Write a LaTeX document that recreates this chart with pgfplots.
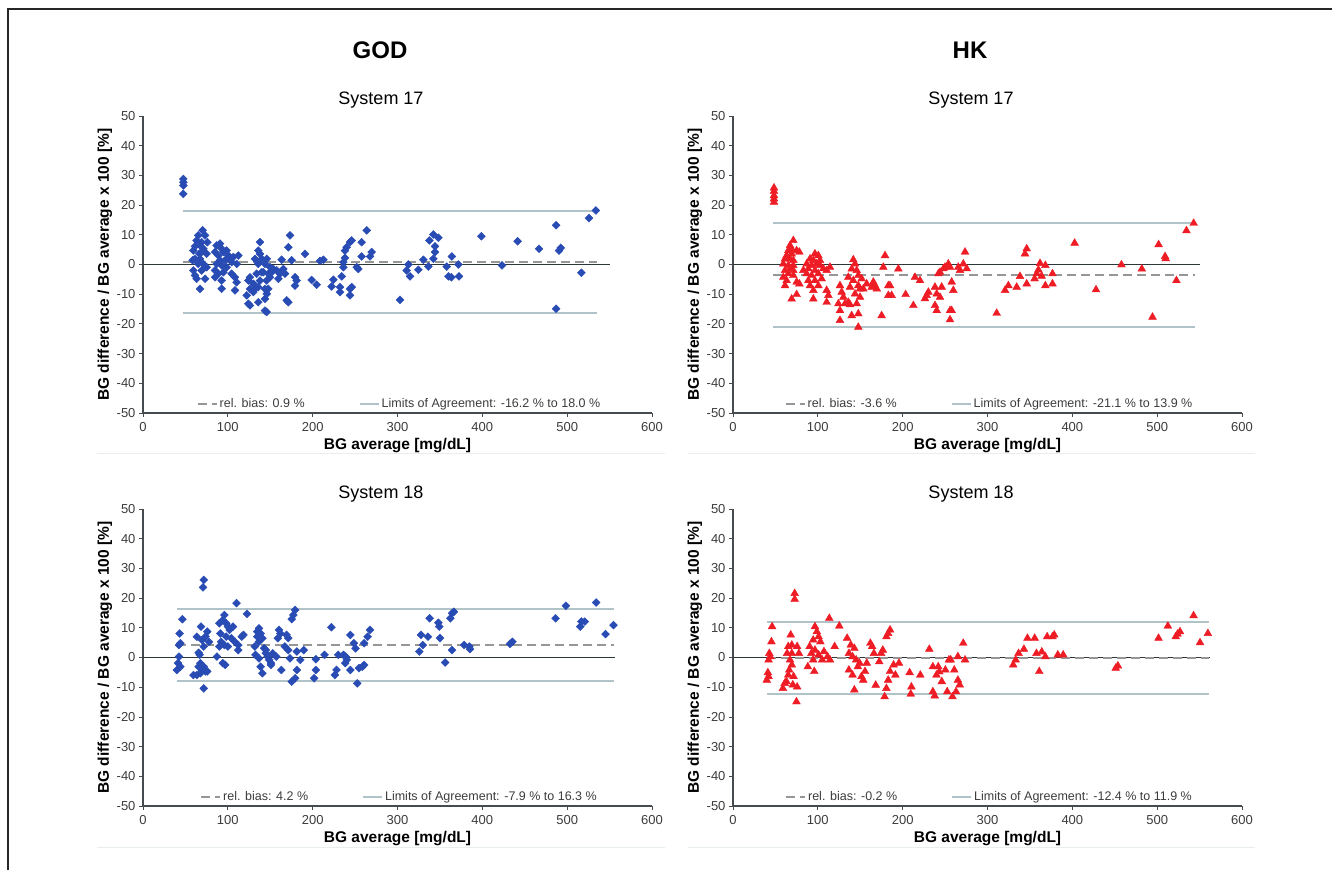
\documentclass[border=0pt]{standalone}
\usepackage{pgfplots}
\pgfplotsset{compat=1.18}
\usepackage{fontspec}
\setmainfont{Liberation Sans}

\definecolor{axiscol}{RGB}{70,75,80}
\definecolor{tickcol}{RGB}{60,60,60}
\definecolor{zerocol}{RGB}{45,55,55}
\definecolor{biascol}{RGB}{150,150,150}
\definecolor{loacol}{RGB}{175,195,200}
\definecolor{ptblue}{RGB}{40,75,180}
\definecolor{ptred}{RGB}{238,28,36}
\definecolor{sepcol}{RGB}{232,238,238}

\pgfplotsset{
  ba/.style={
    scale only axis, width=509pt, height=297pt,
    xmin=0, xmax=600, ymin=-50, ymax=50,
    axis x line*=bottom, axis y line*=left,
    axis line style={axiscol, line width=1.2pt},
    xtick={0,100,...,600}, ytick={-50,-40,...,50},
    xticklabels={0,100,200,300,400,500,600},
    yticklabels={-50,-40,-30,-20,-10,0,10,20,30,40,50},
    tick align=outside, major tick length=4pt,
    tick style={axiscol, line width=0.8pt},
    ticklabel style={font=\fontsize{13}{15}\selectfont, text=tickcol},
    xticklabel style={yshift=-2pt},
    xlabel={BG average [mg/dL]},
    ylabel={BG difference / BG average x 100 [\%]},
    label style={font=\bfseries\fontsize{15.5}{17}\selectfont},
    xlabel style={at={(axis description cs:0.5,-0.108)}, anchor=center},
    ylabel style={at={(axis description cs:-0.075,0.5)}, anchor=center},
    legend style={draw=none, fill=none, at={(axis description cs:0.504,0.03)},
      anchor=center, font=\fontsize{12.5}{14}\selectfont, text=tickcol,
      /tikz/every even column/.append style={column sep=52pt}},
    legend columns=2,
    legend cell align=left,
    legend image code/.code={\draw[#1] (0pt,0pt) -- (19pt,0pt);},
    clip=false,
  },
  zero/.style={color=zerocol, line width=1.3pt, forget plot},
  bias/.style={color=biascol, line width=1.9pt, dash pattern=on 9pt off 5pt},
  loa/.style={color=loacol, line width=1.9pt},
  bluepts/.style={only marks, mark=square*, mark size=2.8pt,
    mark options={rotate=45}, color=ptblue, forget plot},
  redpts/.style={only marks, mark=triangle*, mark size=4.5pt, color=ptred, forget plot},
}

\begin{document}
\begin{tikzpicture}[x=1pt,y=1pt]
\useasboundingbox (0,0) rectangle (1332,870);
\draw[line width=1.3pt, black!85] (8,0) -- (8,861) -- (1332,861);
\draw[line width=1pt, sepcol] (97,416) -- (665,416);
\draw[line width=1pt, sepcol] (688,416) -- (1255,416);
\draw[line width=1pt, sepcol] (97,23) -- (665,23);
\draw[line width=1pt, sepcol] (688,23) -- (1255,23);

\node[font=\bfseries\fontsize{24}{26}\selectfont] at (380,820) {GOD};
\node[font=\bfseries\fontsize{24}{26}\selectfont] at (970,820) {HK};
\node[font=\fontsize{18}{20}\selectfont] at (381,770) {System 17};
\node[font=\fontsize{18}{20}\selectfont] at (971,770) {System 17};
\node[font=\fontsize{18}{20}\selectfont] at (381,376) {System 18};
\node[font=\fontsize{18}{20}\selectfont] at (971,376) {System 18};

% GOD, System 17
\begin{axis}[ba, at={(143pt,457pt)}, anchor=south west]
\addplot[zero] coordinates {(0,0) (550,0)};
\addplot[bias] coordinates {(47,0.9) (535,0.9)};
\addlegendentry{rel. bias: 0.9 \%}
\addplot[loa] coordinates {(47,18.0) (535,18.0)};
\addlegendentry{Limits of Agreement: -16.2 \% to 18.0 \%}
\addplot[loa, forget plot] coordinates {(47,-16.2) (535,-16.2)};
\addplot[bluepts] table {
x y
47.5 28.8
47.5 27.7
47.5 26.6
47.5 23.8
70.3 11.5
65.2 9.8
73.1 9.8
75.8 7.5
63.2 8.1
69.1 7.5
61.3 6.1
67.2 6.4
71.1 5.3
59.3 4.7
66.4 3.6
69.1 4.2
75.0 3.6
61.3 1.9
67.2 1.9
58.5 1.4
65.2 0.2
71.1 0.2
75.0 -0.9
59.3 -2.0
69.1 -2.0
61.3 -3.7
63.2 -4.8
73.1 -4.8
67.2 -8.2
86.8 6.4
90.8 7.0
92.7 5.3
84.9 4.2
94.7 4.2
88.8 3.0
98.6 4.7
100.6 3.0
102.5 1.9
96.6 1.4
90.8 1.4
86.8 0.2
106.5 2.5
112.4 3.0
92.7 -0.3
84.9 -2.0
98.6 -0.9
88.8 -3.1
94.7 -2.6
104.5 -3.1
84.9 -4.3
92.7 -5.4
108.4 -4.3
110.4 -6.0
92.7 -8.2
108.4 -8.7
104.5 0.8
110.4 0.2
137.9 7.5
135.9 4.7
137.9 3.6
132.0 1.9
139.9 1.9
145.8 1.9
135.9 0.2
143.8 0.2
149.7 -0.9
153.6 -1.5
126.1 -4.3
134.0 -3.1
141.8 -2.6
147.7 -3.1
124.2 -5.4
130.1 -6.5
137.9 -5.4
145.8 -5.4
149.7 -4.3
126.1 -8.2
132.0 -8.2
135.9 -7.6
143.8 -8.2
147.7 -8.2
122.2 -10.4
130.1 -9.3
145.8 -9.9
143.8 -11.6
124.2 -13.2
126.1 -13.8
135.9 -12.7
143.8 -15.5
145.8 -16.0
139.9 -2.6
151.7 -2.6
163.5 1.6
157.6 -2.0
161.5 -3.1
165.4 -1.5
159.5 -4.8
167.4 -3.1
171.3 5.8
175.2 1.4
173.3 9.8
179.2 -4.3
181.1 -5.4
179.2 -7.1
171.3 -12.7
169.4 -12.1
191.0 3.6
198.8 -5.2
204.7 -6.8
208.7 1.2
212.6 1.6
224.4 -5.1
222.4 -7.4
232.2 -7.6
234.2 -4.0
232.2 -9.3
236.2 -0.9
236.2 0.8
238.1 4.7
240.1 5.8
244.0 7.5
246.0 8.1
244.0 -8.2
246.0 -7.6
244.0 -10.4
251.9 -0.9
253.8 -1.5
238.1 2.2
257.8 7.5
257.8 2.7
263.7 11.5
269.6 4.2
267.6 2.7
303.0 -11.9
310.8 -2.0
312.8 0.0
314.8 -4.0
324.6 -1.8
330.5 1.6
336.4 -0.7
337.6 8.1
342.3 10.1
344.2 6.1
348.2 9.0
344.2 4.2
342.3 1.9
358.0 -0.7
360.0 -4.0
364.0 2.7
363.5 -4.3
371.7 0.0
372.5 -4.0
398.9 9.5
423.2 -0.3
441.6 7.8
466.8 5.3
487.0 13.2
487.0 -14.9
490.4 4.7
492.4 5.6
516.8 -2.8
525.7 15.6
533.9 18.2
};
\end{axis}

% HK, System 17
\begin{axis}[ba, at={(733pt,457pt)}, anchor=south west]
\addplot[zero] coordinates {(0,0) (550,0)};
\addplot[bias] coordinates {(47,-3.6) (545,-3.6)};
\addlegendentry{rel. bias: -3.6 \%}
\addplot[loa] coordinates {(47,13.9) (545,13.9)};
\addlegendentry{Limits of Agreement: -21.1 \% to 13.9 \%}
\addplot[loa, forget plot] coordinates {(47,-21.1) (545,-21.1)};
\addplot[redpts] table {
x y
48.3 25.8
48.3 24.7
48.3 23.2
48.3 22.1
48.3 21.0
71.1 8.1
67.2 6.4
69.1 5.3
65.2 4.7
75.0 4.7
63.2 3.0
69.1 3.6
78.2 4.2
61.3 1.9
67.2 1.9
71.1 1.4
59.3 0.2
65.2 -0.3
71.1 -0.3
67.2 -1.4
61.3 -2.0
71.1 -2.0
59.3 -4.3
63.2 -5.4
75.0 -5.9
78.2 -6.5
61.3 -7.1
69.1 -11.6
75.0 -10.1
65.2 -3.1
71.1 -3.7
96.6 3.6
100.6 3.0
90.8 1.9
94.7 1.4
86.8 0.2
92.7 -0.3
98.6 0.2
102.5 -0.3
88.8 -1.4
96.6 -2.0
106.5 -1.4
114.3 -0.9
110.4 -2.0
86.8 -3.1
92.7 -3.7
100.6 -3.1
88.8 -5.4
96.6 -5.4
104.5 -4.8
90.8 -7.1
100.6 -7.1
94.7 -8.7
110.4 -8.7
112.4 -10.4
94.7 -11.6
110.4 -12.7
82.9 -2.0
102.5 1.4
141.8 1.6
143.8 0.2
139.9 -1.5
145.8 -2.0
135.9 -4.3
147.7 -3.7
151.7 -4.8
141.8 -5.4
126.1 -7.1
137.9 -7.6
147.7 -7.1
157.6 -6.5
128.1 -9.3
143.8 -9.9
149.7 -11.0
135.9 -12.7
124.2 -13.2
132.0 -13.2
137.9 -13.5
145.8 -13.2
126.1 -15.5
139.9 -17.2
147.7 -16.6
126.1 -18.8
147.7 -21.1
149.7 -8.2
153.6 -8.2
130.1 -11.0
165.4 -5.9
167.4 -7.1
169.4 -8.2
163.5 -7.6
177.2 -0.9
179.2 3.0
183.1 -7.1
185.1 -7.1
183.1 -10.4
187.0 -10.4
175.2 -17.2
194.9 -1.5
203.5 -10.1
212.6 -13.8
214.5 -4.3
220.4 -5.4
226.3 -11.5
228.3 -10.4
230.3 -9.3
238.1 -7.6
246.0 -7.6
240.1 -9.9
244.0 -11.0
238.1 -13.8
240.1 -15.5
242.1 -3.1
244.0 -2.6
248.0 -1.4
249.9 -0.9
253.8 0.2
255.8 -0.9
257.8 -5.9
259.7 -8.7
255.8 -15.5
257.8 -15.5
255.8 -18.6
265.6 -0.9
267.6 -2.0
271.5 0.2
273.5 4.2
275.5 -1.4
310.8 -16.4
320.7 -8.7
324.6 -7.1
334.4 -7.6
338.3 -4.0
344.2 3.6
346.2 5.3
346.2 -6.5
358.0 -3.1
360.0 -1.8
355.5 -4.8
361.9 0.4
363.8 -3.9
368.2 -0.3
368.2 -7.1
376.6 -3.1
376.6 -6.5
402.7 7.2
427.9 -8.5
457.9 -0.1
481.9 -1.5
494.5 -17.7
501.7 6.7
509.3 2.7
510.0 2.0
522.7 -5.4
534.5 11.4
543.0 13.9
};
\end{axis}

% GOD, System 18
\begin{axis}[ba, at={(143pt,64pt)}, anchor=south west]
\addplot[zero] coordinates {(0,0) (556,0)};
\addplot[bias] coordinates {(40,4.2) (555,4.2)};
\addlegendentry{rel. bias: 4.2 \%}
\addplot[loa] coordinates {(40,16.3) (555,16.3)};
\addlegendentry{Limits of Agreement: -7.9 \% to 16.3 \%}
\addplot[loa, forget plot] coordinates {(40,-7.9) (555,-7.9)};
\addplot[bluepts] table {
x y
42.4 0.3
41.2 -1.9
40.0 -4.2
44.0 -3.1
42.4 4.2
43.2 8.1
46.4 12.9
44.0 4.8
59.5 -5.9
63.5 -5.9
67.6 -5.3
69.6 -4.2
65.5 -3.1
67.6 -1.9
66.8 0.9
65.5 1.6
68.4 10.4
71.6 26.1
70.8 23.6
71.6 -10.4
63.5 7.0
69.6 5.9
73.7 7.0
75.7 8.7
73.7 -4.7
75.7 -4.7
77.8 5.3
71.6 -3.1
71.6 3.7
87.1 0.3
90.0 11.5
91.2 8.1
94.0 12.6
96.0 14.3
92.0 5.3
90.0 3.7
96.0 4.2
98.1 7.0
100.1 10.4
98.1 11.5
102.1 9.3
104.2 6.5
100.1 3.7
94.0 -1.9
96.9 -2.5
108.2 5.3
112.3 4.2
112.3 2.5
110.3 18.3
116.4 7.0
118.4 7.6
106.2 10.4
122.5 14.7
131.8 3.7
134.7 8.7
136.7 9.8
138.7 8.1
134.7 7.0
136.7 5.3
132.6 0.9
136.7 -0.3
138.7 -3.1
140.7 -5.3
142.8 3.1
144.8 1.4
146.9 0.3
148.9 -0.8
150.9 -1.9
153.0 1.4
157.0 0.3
140.7 6.5
144.8 2.5
150.9 -2.5
160.3 9.3
161.9 8.1
159.0 6.5
163.1 -4.2
169.2 7.6
171.2 6.5
167.2 3.7
171.2 2.5
173.3 -0.3
175.3 12.9
177.3 14.3
179.4 16.0
175.3 -8.1
179.4 -7.0
181.4 -4.2
181.4 2.0
185.5 -0.8
189.5 2.5
201.7 -7.0
203.8 -4.2
203.8 -0.6
214.0 0.9
222.0 10.2
226.1 -5.9
228.1 -4.2
230.2 0.9
236.3 0.9
238.3 -1.9
240.3 -0.8
244.4 7.6
244.4 -4.2
248.5 4.8
250.5 3.1
252.5 -8.7
254.6 -3.6
258.6 -3.1
260.7 4.8
264.7 7.0
267.6 9.3
260.7 -2.5
239.1 0.3
325.7 2.0
327.7 7.6
329.8 4.2
337.9 13.2
335.9 7.0
348.1 11.7
349.3 10.4
350.1 6.5
356.2 -1.7
362.3 13.2
364.3 14.9
366.4 15.4
364.3 2.5
378.6 4.2
384.6 3.7
385.5 2.8
432.6 4.6
435.5 5.3
486.3 13.2
498.5 17.4
515.5 10.4
516.8 12.1
520.8 12.1
534.2 18.5
545.2 7.9
554.6 10.9
};
\end{axis}

% HK, System 18
\begin{axis}[ba, at={(733pt,64pt)}, anchor=south west]
\addplot[zero] coordinates {(0,0) (562,0)};
\addplot[bias] coordinates {(40,-0.2) (561,-0.2)};
\addlegendentry{rel. bias: -0.2 \%}
\addplot[loa] coordinates {(40,11.9) (561,11.9)};
\addlegendentry{Limits of Agreement: -12.4 \% to 11.9 \%}
\addplot[loa, forget plot] coordinates {(40,-12.4) (561,-12.4)};
\addplot[redpts] table {
x y
41.1 -5.1
41.9 -6.4
39.8 -7.6
44.0 0.3
42.8 1.4
46.1 10.4
45.3 5.3
41.9 -0.8
58.8 -10.4
60.9 -8.7
63.0 -8.1
65.1 -5.9
66.3 -4.2
63.8 1.4
65.1 3.7
68.0 7.6
69.3 4.2
67.2 -0.8
69.3 -2.5
71.4 -6.4
70.5 -9.2
72.7 21.6
72.7 19.6
74.8 -14.9
75.6 -9.9
75.6 3.7
77.7 1.4
69.3 1.4
88.2 -3.1
90.3 3.7
92.4 1.4
94.5 5.9
96.6 10.4
94.5 -0.8
95.8 -4.7
98.8 8.7
100.9 7.0
103.0 5.3
96.6 2.5
100.9 0.9
105.1 -0.8
111.4 0.3
113.5 13.2
114.3 -0.8
119.8 3.7
125.3 10.6
107.2 2.0
134.5 6.5
136.6 1.4
136.6 -4.2
138.8 4.2
140.9 0.3
143.0 3.1
140.9 -5.9
143.0 -10.9
145.1 -0.8
147.2 -3.1
149.3 -1.9
151.4 -6.4
153.5 -7.6
155.6 -4.7
157.7 -1.9
161.9 4.8
164.0 3.7
166.1 1.4
168.2 -9.3
172.4 -1.4
174.5 1.4
176.6 2.5
178.7 -13.2
180.8 -10.4
180.8 7.0
182.9 8.1
185.1 9.3
182.9 -7.6
185.1 -4.7
189.3 -2.5
191.4 -5.9
195.6 -1.9
208.2 -5.1
209.5 -12.3
210.3 -9.9
220.8 -5.9
231.4 2.8
235.6 -3.1
235.6 -11.5
237.7 -12.9
239.8 -5.9
241.9 -3.1
243.2 -4.8
246.1 -8.1
250.3 -4.2
252.5 -11.5
254.5 -0.8
256.6 -0.8
258.7 -13.2
260.8 -4.2
262.9 -11.5
265.1 -7.6
267.2 -9.2
265.1 0.3
271.4 4.8
273.5 -0.8
330.3 -2.5
333.2 -0.8
336.6 1.4
342.9 2.8
347.1 6.5
355.6 6.5
357.7 1.4
361.0 -4.7
364.0 1.9
368.2 0.3
370.3 7.0
376.6 7.0
378.7 7.6
382.9 0.9
389.2 0.9
451.1 -3.6
453.7 -2.8
501.6 6.5
512.6 10.6
521.9 7.0
524.0 7.9
526.9 8.7
542.9 14.1
550.5 5.0
559.8 8.1
};
\end{axis}
\end{tikzpicture}
\end{document}
